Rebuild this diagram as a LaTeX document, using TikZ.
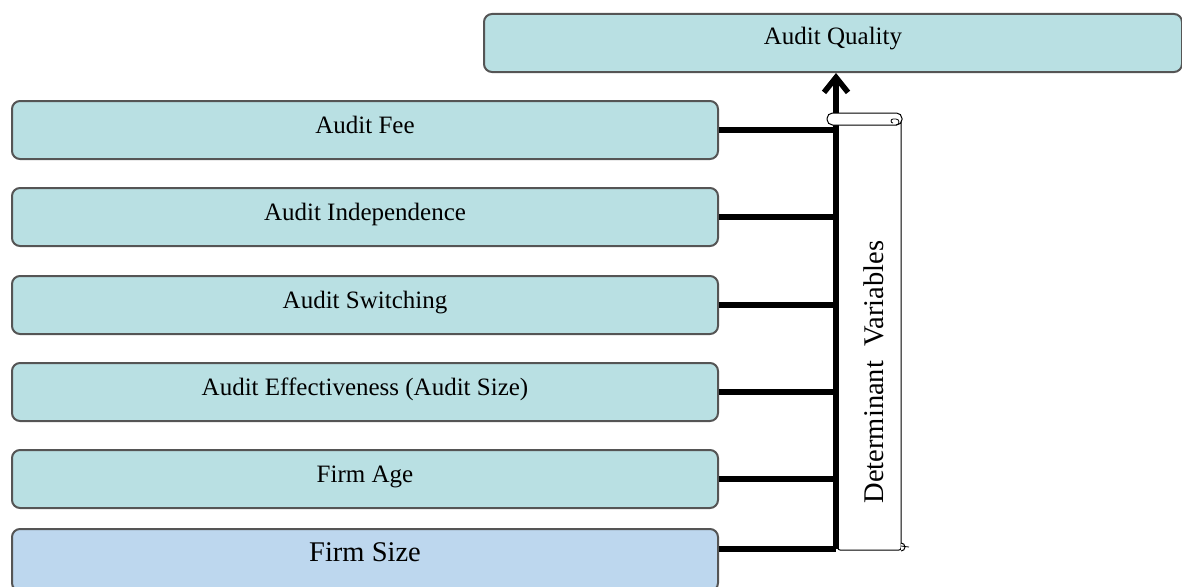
\documentclass[tikz,border=0pt]{standalone}
\usepackage{fontspec}
\setmainfont{Liberation Serif}
\usetikzlibrary{arrows.meta}
\definecolor{tealfill}{HTML}{B9E0E3}
\definecolor{bluefill}{HTML}{BDD7EE}
\definecolor{boxedge}{HTML}{555555}
\tikzset{
  varbox/.style={draw=boxedge, line width=2pt, fill=tealfill, rounded corners=8pt,
    minimum width=706pt, inner xsep=0pt, inner ysep=0pt,
    text height=32pt, text depth=26pt, anchor=north west,
    font=\fontsize{25}{30}\selectfont},
  sizebox/.style={varbox, fill=bluefill, text height=32pt, text depth=30pt,
    font=\fontsize{28.5}{34}\selectfont},
  topbox/.style={varbox, minimum width=698pt, text height=31pt, text depth=27pt},
  bus/.style={line width=5.5pt},
  scrollline/.style={line width=1pt, draw=black, fill=white}
}
\begin{document}
\begin{tikzpicture}[x=1pt, y=-1pt]
  \useasboundingbox (0,0) rectangle (1182,586);
  \begin{scope}
  \clip (0,0) rectangle (1182,586);

  % outcome box
  \node[topbox] (quality) at (483,13) {Audit Quality};

  % determinant boxes
  \node[varbox]  (fee)   at (11,100) {Audit Fee};
  \node[varbox]  (indep) at (11,187) {Audit Independence};
  \node[varbox]  (switch) at (11,275) {Audit Switching};
  \node[varbox]  (effect) at (11,362) {Audit Effectiveness (Audit Size)};
  \node[varbox]  (age)   at (11,449) {Firm Age};
  \node[sizebox] (size)  at (11,528) {Firm Size};

  % scroll body
  \draw[scrollline, rounded corners=2pt] (838,119) -- (838,550) -- (901,550) -- (901,119);
  \node[rotate=90, anchor=base, font=\fontsize{28.5}{34}\selectfont, inner sep=0pt]
    (det) at (883,372) {Determinant\ \ Variables};

  % collecting bus and branches
  \coordinate (busbot) at (836,549);
  \draw[bus, -{Straight Barb[length=15pt, width=24pt]}] (busbot) -- (busbot |- quality.south);
  \foreach \b in {fee, indep, switch, effect, age} {
    \draw[bus] (\b.east) -- (\b.east -| busbot);
  }
  \draw[bus] (size.east |- busbot) -- (busbot);

  % scroll roll at the top and curl at the bottom
  \draw[scrollline, rounded corners=5.5pt] (827,113) rectangle (902,125);
  \draw[line width=0.8pt] (896,125) arc (-90:90:3pt) -- (893,119) arc (90:270:2pt);
  \draw[scrollline] (901,543) arc (90:-90:4pt and 4pt) -- (901,551);
  \draw[line width=0.8pt] (901,546) -- (909,547);
  \end{scope}
\end{tikzpicture}
\end{document}
